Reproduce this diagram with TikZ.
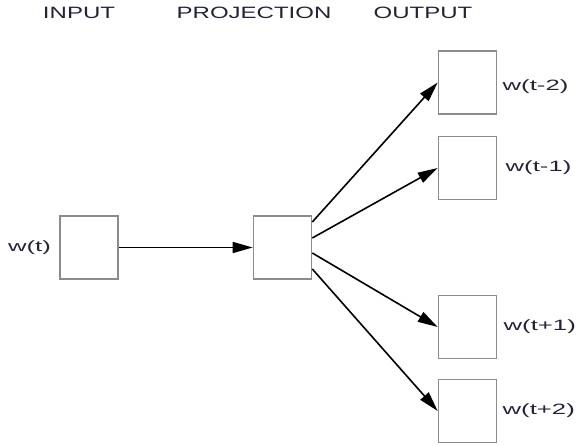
\documentclass[tikz,border=0pt]{standalone}
\usepackage{fontspec}
\setsansfont{Liberation Sans}
\usepackage{tikz}
\usetikzlibrary{arrows.meta,positioning}
\definecolor{boxgray}{RGB}{140,140,140}
\definecolor{inkgray}{RGB}{35,35,55}

\begin{document}
\begin{tikzpicture}[x=1bp, y=-1bp, line width=1.6bp]
		\tikzstyle{every node}=[font=\sffamily, text=inkgray, inner sep=0pt]
		\tikzstyle{unit}=[draw=boxgray, line width=1.6bp, minimum width=58bp, minimum height=63bp]
		\tikzstyle{word}=[font=\sffamily\fontsize{15}{17}\selectfont, xscale=1.72]
		\tikzstyle{head}=[font=\sffamily\fontsize{16.5}{19}\selectfont, xscale=1.46]
		\tikzstyle{link}=[-{Triangle[length=20bp, width=11bp]}, black]
		\useasboundingbox (0,0) rectangle (577,446);
		
		\node[head] (hin) at (79,12.5) {INPUT};
		\node[head] (hproj) at (254,12.5) {PROJECTION};
		\node[head] (hout) at (423,12.5) {OUTPUT};
		
		\node[unit] (inp) at (89,247.5) {};
		\node[unit] (proj) at (282.5,247.5) {};
		\node[unit] (out1) at (467.5,82.5) {};
		\node[unit] (out2) at (467.5,168) {};
		\node[unit] (out3) at (467.5,327) {};
		\node[unit] (out4) at (467.5,411) {};
		
		\node[word, left=7bp of inp] (win) {w(t)};
		\node[word, right=4bp of out1, yshift=-4bp] (wm2) {w(t-2)};
		\node[word, right=7bp of out2] (wm1) {w(t-1)};
		\node[word, right=5bp of out3] (wp1) {w(t+1)};
		\node[word, right=4bp of out4] (wp2) {w(t+2)};
		
		\draw[link] (inp.east) -- (proj.west);
		\draw[link] ([yshift=25.5bp]proj.east) -- (out1.west);
		\draw[link] ([yshift=9.5bp]proj.east) -- (out2.west);
		\draw[link] ([yshift=-5.5bp]proj.east) -- (out3.west);
		\draw[link] ([yshift=-21.5bp]proj.east) -- (out4.west);
		
	\end{tikzpicture}
\end{document}
